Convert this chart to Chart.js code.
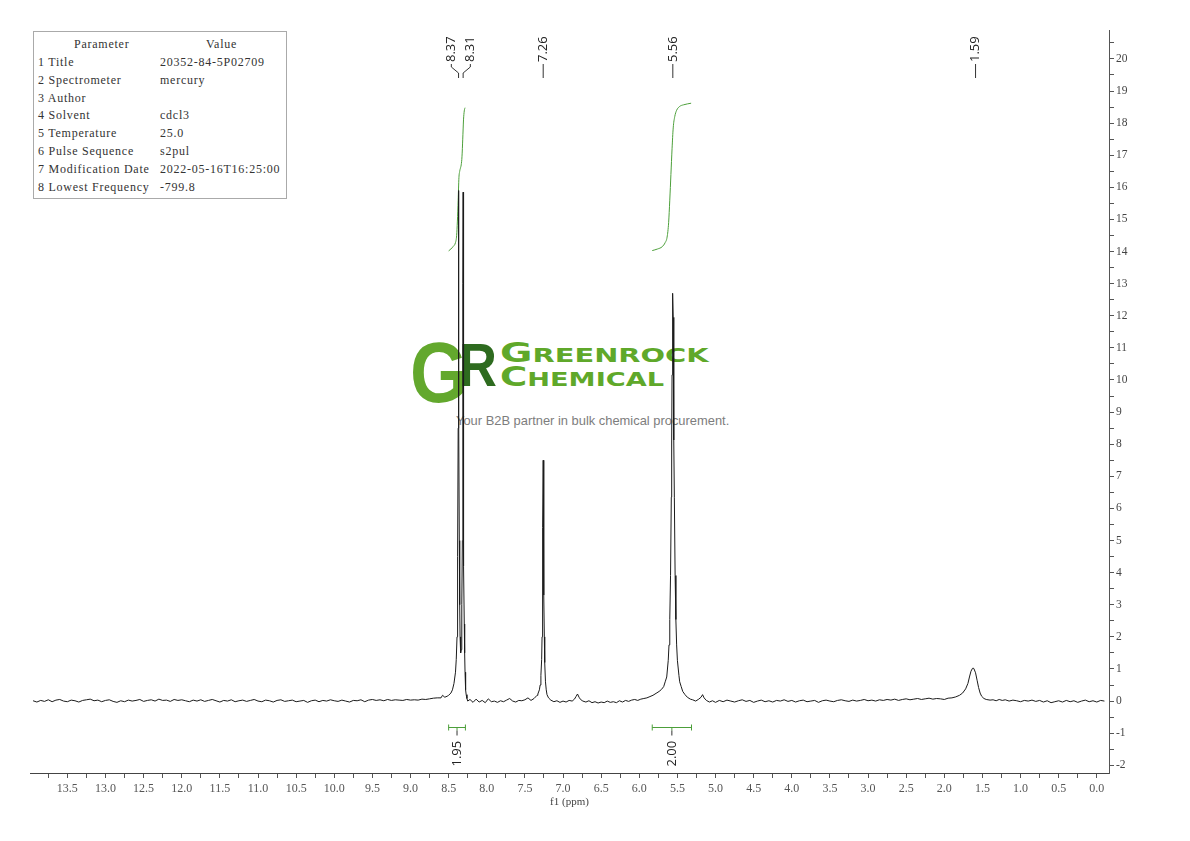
<!DOCTYPE html>
<html>
<head>
<meta charset="utf-8">
<title>1H NMR 20352-84-5P02709</title>
<script src="https://cdn.jsdelivr.net/npm/chart.js@4.4.1/dist/chart.umd.min.js"></script>
<style>
  html, body { margin: 0; padding: 0; background: #fff; }
  #wrap { position: relative; width: 1190px; height: 841px; overflow: hidden; }
  #chart { position: absolute; left: 0; top: 0; z-index: 1; }
  /* watermark sits behind the canvas */
  #wm { position: absolute; left: 0; top: 0; z-index: 0; }
  #wm div { position: absolute; white-space: nowrap; }
  #wm .g { left: 410px; top: 329px; font: bold 86px "Liberation Sans"; line-height: 86px; color: #63a82d; transform: scaleX(0.86); transform-origin: left top; }
  #wm .r { left: 459px; top: 335px; font: bold 61px "Liberation Sans"; line-height: 61px; color: #2e6b1f; transform: scaleX(0.86); transform-origin: left top; }
  #wm .name { left: 500px; font: bold 19px "DejaVu Sans"; line-height: 26px; color: #5fa82a; transform-origin: left top; }
  #wm .name .cap { font-size: 26px; }
  #wm .n1 { top: 340px; transform: scaleX(1.52); }
  #wm .n2 { top: 364px; transform: scaleX(1.43); }
  #wm .tag { left: 456px; top: 414px; font: 12.9px "Liberation Sans"; line-height: 14px; color: #7d7d7d; }
  /* parameter table */
  #params { position: absolute; left: 33px; top: 31px; width: 252px; height: 166px; border: 1px solid #aaa; z-index: 2; background: #fff;
            font: 12px "Liberation Serif"; letter-spacing: 0.75px; color: #333; }
  #params .row { position: absolute; left: 0; height: 18px; line-height: 18px; width: 100%; }
  #params .c1 { position: absolute; left: 4px; }
  #params .c2 { position: absolute; left: 126px; }
  #params .hdr .c1 { left: 40px; }
  #params .hdr .c2 { left: 172px; }
</style>
</head>
<body>
<div id="wrap">
  <div id="wm">
    <div class="g">G</div>
    <div class="r">R</div>
    <div class="name n1"><span class="cap">G</span>REENROCK</div>
    <div class="name n2"><span class="cap">C</span>HEMICAL</div>
    <div class="tag">Your B2B partner in bulk chemical procurement.</div>
  </div>
  <canvas id="chart" width="1190" height="841"></canvas>
  <div id="params"></div>
</div>
<script>
// ---- parameter table ----
const paramNames = ['1 Title', '2 Spectrometer', '3 Author', '4 Solvent', '5 Temperature',
                    '6 Pulse Sequence', '7 Modification Date', '8 Lowest Frequency'];
const paramValues = ['20352-84-5P02709', 'mercury', '', 'cdcl3', '25.0',
                     's2pul', '2022-05-16T16:25:00', '-799.8'];

// ---- spectrum as [ppm, intensity] ----
const baseHigh = [
  [13.95,0.01],[13.90,-0.03],[13.85,0.02],[13.80,-0.01],[13.75,0.04],[13.70,-0.02],[13.65,0.03],[13.60,0.05],[13.55,0.00],[13.50,-0.02],
  [13.45,0.03],[13.40,0.01],[13.35,-0.03],[13.30,0.02],[13.25,0.04],[13.20,0.06],[13.15,0.01],[13.10,0.03],[13.05,-0.02],[13.00,0.02],
  [12.95,0.04],[12.90,-0.01],[12.85,-0.04],[12.80,0.01],[12.75,-0.02],[12.70,0.03],[12.65,0.00],[12.60,0.02],[12.55,0.05],[12.50,-0.01],
  [12.45,0.02],[12.40,0.04],[12.35,0.00],[12.30,0.06],[12.25,0.02],[12.20,0.03],[12.15,-0.01],[12.10,0.05],[12.05,0.02],[12.00,0.04],
  [11.95,0.01],[11.90,-0.02],[11.85,0.03],[11.80,0.00],[11.75,0.04],[11.70,-0.01],[11.65,0.02],[11.60,0.05],[11.55,0.01],[11.50,-0.03],
  [11.45,0.02],[11.40,0.00],[11.35,0.04],[11.30,-0.02],[11.25,0.01],[11.20,0.03],[11.15,-0.01],[11.10,0.02],[11.05,0.05],[11.00,0.00],
  [10.95,-0.02],[10.90,0.03],[10.85,0.01],[10.80,-0.03],[10.75,0.02],[10.70,0.04],[10.65,-0.01],[10.60,0.01],[10.55,0.03],[10.50,-0.02],
  [10.45,0.00],[10.40,0.02],[10.35,-0.04],[10.30,0.01],[10.25,0.03],[10.20,-0.02],[10.15,0.02],[10.10,0.00],[10.05,0.04],[10.00,0.01],
  [9.95,-0.01],[9.90,0.03],[9.85,0.00],[9.80,-0.03],[9.75,0.02],[9.70,0.01],[9.65,0.04],[9.60,-0.02],[9.55,0.03],[9.50,0.05],
  [9.45,0.02],[9.40,0.04],[9.35,0.01],[9.30,0.05],[9.25,0.02],[9.20,0.04],[9.15,0.03],[9.10,0.02],[9.05,0.05],[9.00,0.03],
  [8.95,0.04],[8.90,0.03],[8.85,0.06],[8.80,0.05],[8.75,0.07],[8.70,0.09],[8.65,0.10]
];
const doublet = [
  [8.60,0.10],[8.58,0.18],[8.55,0.12],[8.52,0.15],[8.50,0.18],[8.47,0.25],[8.45,0.35],[8.43,0.55],[8.41,0.9],[8.40,1.3],
  [8.39,2.0],[8.385,2.8],[8.38,4.5],[8.375,8.5],[8.372,12.5],[8.37,15.9],[8.368,13.5],[8.365,9.0],[8.36,5.0],[8.355,3.0],
  [8.35,2.0],[8.345,1.6],[8.34,1.5],[8.335,1.6],[8.33,2.0],[8.325,3.0],[8.32,5.0],[8.315,9.0],[8.312,13.0],[8.31,15.85],
  [8.308,12.5],[8.305,8.5],[8.30,4.2],[8.295,2.4],[8.29,1.5],[8.285,0.9],[8.28,0.55],[8.275,0.35],[8.27,0.2],[8.26,0.08],[8.25,0.0]
];
const baseMid = [
  [8.22,0.05],[8.18,-0.04],[8.14,0.06],[8.10,-0.03],[8.06,0.02],[8.02,-0.05],[7.98,0.07],[7.94,-0.02],[7.90,0.00],[7.86,-0.04],
  [7.82,0.01],[7.78,-0.02],[7.74,0.03],[7.70,0.08],[7.66,0.00],[7.62,-0.03],[7.58,0.02],[7.54,0.01],[7.50,0.04],[7.46,0.10],
  [7.42,0.02],[7.38,0.08],[7.34,0.18]
];
const peakCHCl3 = [
  [7.33,0.22],[7.31,0.35],[7.30,0.5],[7.29,0.8],[7.28,1.3],[7.275,2.0],[7.27,3.4],[7.265,5.4],[7.26,7.5],
  [7.255,5.4],[7.25,3.3],[7.245,2.0],[7.24,1.2],[7.23,0.6],[7.22,0.35],[7.21,0.2],[7.19,0.1]
];
const baseLow = [
  [7.16,0.03],[7.12,-0.02],[7.08,0.01],[7.04,-0.04],[7.00,0.00],[6.96,-0.03],[6.92,0.02],[6.88,0.00],[6.85,0.06],[6.83,0.14],
  [6.81,0.22],[6.79,0.12],[6.77,0.05],[6.74,0.00],[6.70,-0.03],[6.66,0.01],[6.62,-0.05],[6.58,-0.02],[6.54,-0.06],[6.50,-0.03],
  [6.46,-0.05],[6.42,0.00],[6.38,-0.04],[6.34,-0.02],[6.30,-0.05],[6.26,0.01],[6.22,-0.03],[6.18,0.02],[6.14,-0.01],[6.10,0.03],
  [6.06,0.05],[6.02,0.02],[5.98,0.06],[5.94,0.08],[5.90,0.10],[5.86,0.14],[5.82,0.18],[5.78,0.24]
];
const peak556 = [
  [5.74,0.30],[5.71,0.36],[5.68,0.45],[5.66,0.6],[5.64,0.75],[5.62,1.27],[5.61,1.75],[5.60,2.54],[5.59,3.91],[5.58,6.35],
  [5.575,8.13],[5.57,10.16],[5.565,11.95],[5.56,12.7],[5.555,11.95],[5.55,10.16],[5.545,8.13],[5.54,6.35],[5.53,3.91],[5.52,2.54],
  [5.51,1.75],[5.50,1.27],[5.48,0.8],[5.47,0.6],[5.45,0.45],[5.43,0.3],[5.40,0.2],[5.37,0.12],[5.33,0.06]
];
const baseUpfield = [
  [5.30,0.04],[5.26,0.00],[5.22,0.06],[5.19,0.12],[5.17,0.20],[5.15,0.10],[5.12,0.02],[5.08,-0.03],[5.04,0.01],[5.00,-0.04],
  [4.95,0.02],[4.90,-0.02],[4.85,0.03],[4.80,0.00],[4.75,-0.03],[4.70,0.01],[4.65,0.04],[4.60,-0.01],[4.55,0.02],[4.50,-0.04],
  [4.45,0.00],[4.40,0.03],[4.35,-0.02],[4.30,0.01],[4.25,-0.03],[4.20,0.02],[4.15,0.00],[4.10,0.04],[4.05,-0.01],[4.00,0.02],
  [3.95,-0.03],[3.90,0.01],[3.85,0.03],[3.80,-0.02],[3.75,0.00],[3.70,0.02],[3.65,-0.04],[3.60,0.01],[3.55,0.03],[3.50,0.00],
  [3.45,-0.02],[3.40,0.02],[3.35,0.04],[3.30,0.01],[3.25,-0.01],[3.20,0.03],[3.15,0.00],[3.10,0.02],[3.05,0.05],[3.00,0.01],
  [2.95,0.03],[2.90,0.00],[2.85,0.04],[2.80,0.02],[2.75,0.05],[2.70,0.03],[2.65,0.06],[2.60,0.02],[2.55,0.05],[2.50,0.07],
  [2.45,0.04],[2.40,0.06],[2.35,0.08],[2.30,0.05],[2.25,0.07],[2.20,0.09],[2.15,0.06],[2.10,0.08],[2.05,0.07]
];
const peakWater = [
  [2.00,0.05],[1.95,0.09],[1.90,0.10],[1.85,0.13],[1.80,0.18],[1.76,0.25],[1.72,0.38],[1.69,0.55],[1.67,0.75],[1.65,0.93],
  [1.63,1.02],[1.62,1.03],[1.61,1.0],[1.59,0.88],[1.57,0.65],[1.55,0.42],[1.53,0.25],[1.51,0.15],[1.48,0.08],[1.45,0.05],[1.40,0.03]
];
const baseEnd = [
  [1.36,0.04],[1.32,0.01],[1.28,0.05],[1.24,0.02],[1.20,0.04],[1.15,0.00],[1.10,0.03],[1.05,0.01],[1.00,-0.02],[0.95,0.02],
  [0.90,0.00],[0.85,0.03],[0.80,-0.01],[0.75,0.02],[0.70,-0.03],[0.65,0.01],[0.60,-0.05],[0.55,-0.02],[0.50,0.01],[0.45,-0.03],
  [0.40,0.02],[0.35,-0.02],[0.30,0.01],[0.25,-0.04],[0.20,0.00],[0.15,0.03],[0.10,-0.02],[0.05,0.01],[0.00,-0.03],[-0.05,0.02],[-0.10,0.00]
];

// integral curves (green), [ppm, value on the same axis]
const integralCurve1 = [
  [8.50,14.02],[8.47,14.08],[8.44,14.16],[8.41,14.28],[8.395,14.5],[8.385,14.95],[8.375,15.6],[8.365,16.3],
  [8.355,16.5],[8.345,16.6],[8.335,16.7],[8.325,16.95],[8.315,17.5],[8.305,18.1],[8.295,18.38],[8.285,18.48]
];
const integralCurve2 = [
  [5.83,14.03],[5.76,14.08],[5.70,14.15],[5.66,14.28],[5.635,14.45],[5.615,14.9],[5.60,15.6],[5.585,16.4],
  [5.57,17.2],[5.555,17.85],[5.535,18.2],[5.51,18.4],[5.47,18.52],[5.42,18.57],[5.32,18.62]
];

// integration ranges and values, peak picks
const integralFrom = [8.50, 5.83];
const integralTo = [8.28, 5.315];
const integralValues = ['1.95', '2.00'];
const peakLabels = [8.37, 8.31, 7.26, 5.56, 1.59];

// ---- build table ----
const params = document.getElementById('params');
const hdr = document.createElement('div');
hdr.className = 'row hdr';
hdr.style.top = '3px';
hdr.innerHTML = '<span class="c1">Parameter</span><span class="c2">Value</span>';
params.appendChild(hdr);
paramNames.forEach((name, i) => {
    const row = document.createElement('div');
    row.className = 'row';
    row.style.top = (3 + (i + 1) * 17.85) + 'px';
    const c1 = document.createElement('span'); c1.className = 'c1'; c1.textContent = name;
    const c2 = document.createElement('span'); c2.className = 'c2'; c2.textContent = paramValues[i];
    row.appendChild(c1); row.appendChild(c2);
    params.appendChild(row);
});

// ---- chart ----
const toXY = arr => arr.map(([x, y]) => ({ x, y }));
const spectrum = toXY([].concat(baseHigh, doublet, baseMid, peakCHCl3, baseLow, peak556, baseUpfield, peakWater, baseEnd));

const GREEN = '#4c9f3a';

// peak picks on top, integral bars underneath
const annotate = {
    id: 'annotate',
    afterDatasetsDraw(chart) {
        const { ctx, scales: { x, y } } = chart;
        ctx.save();
        ctx.lineWidth = 1;

        // spread labels that sit too close together
        const items = peakLabels.map(p => ({ p, px: x.getPixelForValue(p), lx: x.getPixelForValue(p) }));
        items.sort((a, b) => a.px - b.px);
        const gap = 19;
        for (let pass = 0; pass < 6; pass++) {
            for (let i = 1; i < items.length; i++) {
                const d = items[i].lx - items[i - 1].lx;
                if (d < gap) {
                    const s = (gap - d) / 2;
                    items[i - 1].lx -= s;
                    items[i].lx += s;
                }
            }
        }
        ctx.strokeStyle = '#333';
        ctx.fillStyle = '#222';
        ctx.font = '13px "Open Sans"';
        items.forEach(it => {
            ctx.beginPath();
            ctx.moveTo(it.lx, 64);
            ctx.lineTo(it.lx, 67);
            ctx.lineTo(it.px, 73);
            ctx.lineTo(it.px, 78);
            ctx.stroke();
            ctx.save();
            ctx.translate(it.lx, 62);
            ctx.rotate(-Math.PI / 2);
            ctx.textAlign = 'left';
            ctx.textBaseline = 'middle';
            ctx.fillText(it.p.toFixed(2), 0, 0);
            ctx.restore();
        });

        // integral bars
        const yb = Math.round(y.getPixelForValue(-0.8)) + 0.5;
        integralFrom.forEach((from, i) => {
            const x1 = x.getPixelForValue(from);
            const x2 = x.getPixelForValue(integralTo[i]);
            const cx = (x1 + x2) / 2;
            ctx.strokeStyle = GREEN;
            ctx.beginPath();
            ctx.moveTo(x1, yb); ctx.lineTo(x2, yb);
            ctx.moveTo(x1, yb - 3); ctx.lineTo(x1, yb + 3);
            ctx.moveTo(x2, yb - 3); ctx.lineTo(x2, yb + 3);
            ctx.moveTo(cx, yb); ctx.lineTo(cx, yb + 3);
            ctx.stroke();
            ctx.strokeStyle = '#333';
            ctx.beginPath();
            ctx.moveTo(cx, yb + 3); ctx.lineTo(cx, yb + 8);
            ctx.stroke();
            ctx.save();
            ctx.translate(cx, yb + 39);
            ctx.rotate(-Math.PI / 2);
            ctx.textAlign = 'left';
            ctx.textBaseline = 'middle';
            ctx.fillStyle = '#222';
            ctx.fillText(integralValues[i], 0, 0);
            ctx.restore();
        });
        ctx.restore();
    }
};

Chart.defaults.font.family = '"Liberation Serif"';
Chart.defaults.color = '#444';

new Chart(document.getElementById('chart'), {
    type: 'scatter',
    data: {
        datasets: [
            {
                data: spectrum,
                showLine: true,
                borderColor: '#1b1b1b',
                borderWidth: 1,
                pointRadius: 0,
                tension: 0
            },
            {
                data: toXY(integralCurve1),
                showLine: true,
                borderColor: GREEN,
                borderWidth: 1,
                pointRadius: 0,
                cubicInterpolationMode: 'monotone'
            },
            {
                data: toXY(integralCurve2),
                showLine: true,
                borderColor: GREEN,
                borderWidth: 1,
                pointRadius: 0,
                cubicInterpolationMode: 'monotone'
            }
        ]
    },
    options: {
        responsive: false,
        animation: false,
        events: [],
        layout: { padding: { left: 30, top: 30, right: 0, bottom: 0 } },
        plugins: { legend: { display: false }, tooltip: { enabled: false } },
        scales: {
            x: {
                type: 'linear',
                reverse: true,
                min: -0.16,
                max: 13.99,
                afterFit: s => { s.height = 68; },
                ticks: {
                    stepSize: 0.25,
                    autoSkip: false,
                    maxRotation: 0,
                    includeBounds: false,
                    padding: 4,
                    color: '#555',
                    font: { size: 12 },
                    callback: v => (Math.round(v * 4) % 2 === 0 ? Math.abs(v).toFixed(1) : '')
                },
                grid: { drawOnChartArea: false, drawTicks: true, tickLength: 5, color: '#555' },
                border: { display: true, color: '#444' },
                title: { display: true, text: 'f1 (ppm)', color: '#444', font: { size: 11 }, padding: { top: 0, bottom: 32 } }
            },
            y: {
                position: 'right',
                min: -2.24,
                max: 20.9,
                afterFit: s => { s.width = 81; },
                ticks: {
                    stepSize: 0.5,
                    autoSkip: false,
                    includeBounds: false,
                    padding: 2,
                    color: '#444',
                    font: { size: 11.5 },
                    callback: v => (Number.isInteger(v) ? String(v) : '')
                },
                grid: { drawOnChartArea: false, drawTicks: true, tickLength: 5, color: '#555' },
                border: { display: true, color: '#555' }
            }
        }
    },
    plugins: [annotate]
});
</script>
</body>
</html>
